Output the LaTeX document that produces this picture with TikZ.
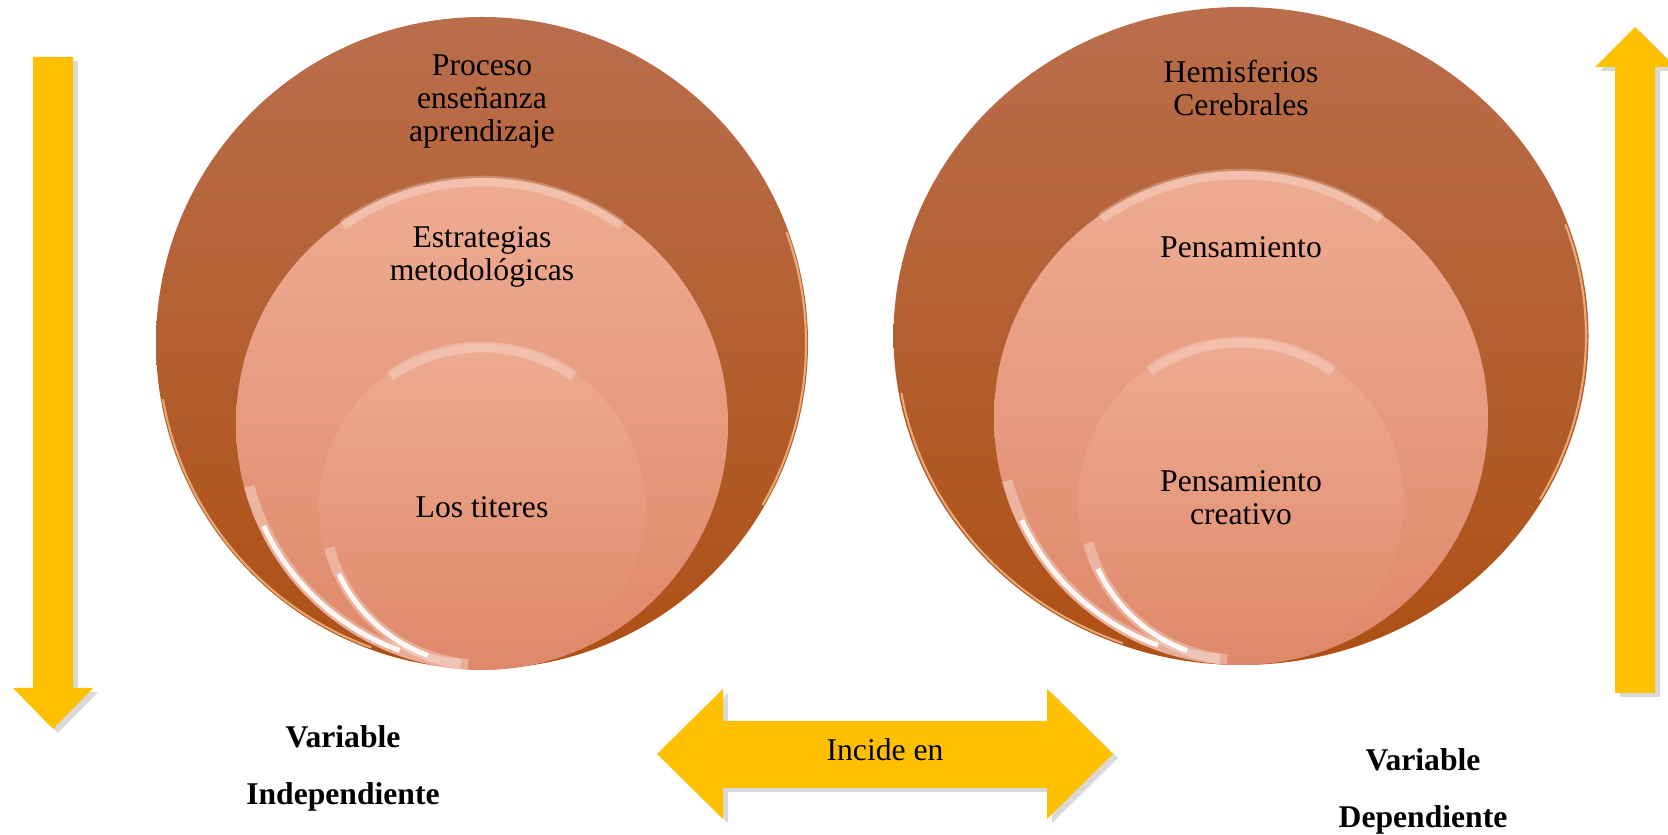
\documentclass[tikz,border=0pt]{standalone}
\usepackage{fontspec}
\setmainfont{Liberation Serif}
\usetikzlibrary{shapes.geometric, positioning, shadows}

\definecolor{rustTop}{RGB}{186,110,76}
\definecolor{rustBottom}{RGB}{173,80,20}
\definecolor{peachTop}{RGB}{238,172,146}
\definecolor{peachBottom}{RGB}{223,136,106}
\definecolor{gold}{RGB}{255,192,0}

\tikzstyle{ringouter} = [circle, 
inner sep=0pt, 
top color=rustTop, 
bottom color=rustBottom]
\tikzstyle{ringinner} = [circle, 
inner sep=0pt, 
top color=peachTop, 
bottom color=peachBottom, 
font=\fontsize{9}{9.4}\selectfont]
\tikzstyle{txt} = [align=center, inner sep=0pt, font=\fontsize{9}{9.4}\selectfont]
\tikzstyle{vartxt} = [align=center, inner sep=0pt, font=\fontsize{9}{16.2}\selectfont\bfseries]
\tikzstyle{bigarrow} = [fill=gold, 
drop shadow={shadow xshift=0.05cm, shadow yshift=-0.04cm, opacity=0.3}]
\tikzstyle{shine} = [white, line width=1.4pt, opacity=0.9]
\tikzstyle{glow} = [white, line width=3pt, opacity=0.3]
\tikzstyle{rim} = [white!60!orange, line width=0.6pt, opacity=0.7]

\begin{document}
\begin{tikzpicture}
	\useasboundingbox (0,0) rectangle (16.68,-8.35);

	% independent side
	\node (outerL) [ringouter, minimum size=6.52cm] at (4.82,-3.43) {};
	\node (midL) [ringinner, minimum size=4.92cm] at (4.82,-4.24) {};
	\node (innL) [ringinner, minimum size=3.26cm] at (4.82,-5.07) {Los titeres};
	\node (procesoTxt) [txt, below=0.375cm of outerL.north] {Proceso\\enseñanza\\aprendizaje};
	\node (estrategiasTxt) [txt, below=0.49cm of midL.north] {Estrategias\\metodológicas};

	% dependent side
	\node (outerR) [ringouter, ellipse, minimum width=6.95cm, minimum height=6.58cm] at (12.41,-3.36) {};
	\node (midR) [ringinner, minimum size=4.94cm] at (12.41,-4.18) {};
	\node (innR) [ringinner, minimum size=3.26cm] at (12.41,-5.02) {};
	\node (hemisferiosTxt) [txt, below=0.535cm of outerR.north] {Hemisferios\\Cerebrales};
	\node (pensamientoTxt) [txt, below=0.654cm of midR.north] {Pensamiento};
	\node (creativoTxt) [txt, below=1.32cm of innR.north] {Pensamiento\\creativo};

	% gloss
	\draw [rim] (outerL.center) ++(190:3.24) arc[start angle=190, end angle=250, radius=3.24];
	\draw [rim] (outerL.center) ++(-30:3.24) arc[start angle=-30, end angle=20, radius=3.24];
	\draw [rim] (outerR.center) ++(190:3.45 and 3.27) arc[start angle=190, end angle=250, x radius=3.45, y radius=3.27];
	\draw [rim] (outerR.center) ++(-30:3.45 and 3.27) arc[start angle=-30, end angle=20, x radius=3.45, y radius=3.27];
	\draw [glow] (midL.center) ++(195:2.41) arc[start angle=195, end angle=265, radius=2.41];
	\draw [shine] (midL.center) ++(205:2.41) arc[start angle=205, end angle=250, radius=2.41];
	\draw [glow] (innL.center) ++(195:1.58) arc[start angle=195, end angle=265, radius=1.58];
	\draw [shine] (innL.center) ++(205:1.58) arc[start angle=205, end angle=250, radius=1.58];
	\draw [glow] (midR.center) ++(195:2.42) arc[start angle=195, end angle=265, radius=2.42];
	\draw [shine] (midR.center) ++(205:2.42) arc[start angle=205, end angle=250, radius=2.42];
	\draw [glow] (innR.center) ++(195:1.58) arc[start angle=195, end angle=265, radius=1.58];
	\draw [shine] (innR.center) ++(205:1.58) arc[start angle=205, end angle=250, radius=1.58];
	\draw [glow, opacity=0.25] (midL.center) ++(55:2.43) arc[start angle=55, end angle=125, radius=2.43];
	\draw [glow, opacity=0.25] (innL.center) ++(55:1.60) arc[start angle=55, end angle=125, radius=1.60];
	\draw [glow, opacity=0.25] (midR.center) ++(55:2.44) arc[start angle=55, end angle=125, radius=2.44];
	\draw [glow, opacity=0.25] (innR.center) ++(55:1.60) arc[start angle=55, end angle=125, radius=1.60];

	% arrows
	\fill [bigarrow] (0.33,-0.57) -- (0.73,-0.57) -- (0.73,-6.88) -- (0.93,-6.88) -- (0.53,-7.29) -- (0.13,-6.88) -- (0.33,-6.88) -- cycle;
	\fill [bigarrow] (16.15,-6.93) -- (16.15,-0.67) -- (15.95,-0.67) -- (16.35,-0.27) -- (16.75,-0.67) -- (16.55,-0.67) -- (16.55,-6.93) -- cycle;
	\fill [bigarrow] (6.57,-7.54) -- (7.23,-6.89) -- (7.23,-7.21) -- (10.47,-7.21) -- (10.47,-6.89) -- (11.13,-7.54) -- (10.47,-8.19) -- (10.47,-7.88) -- (7.23,-7.88) -- (7.23,-8.19) -- cycle;
	\node (incideTxt) [txt] at (8.85,-7.50) {Incide en};

	\node (indepTxt) [vartxt] at (3.43,-7.68) {Variable\\Independiente};
	\node (depTxt) [vartxt] at (14.23,-7.91) {Variable\\Dependiente};
\end{tikzpicture}
\end{document}
